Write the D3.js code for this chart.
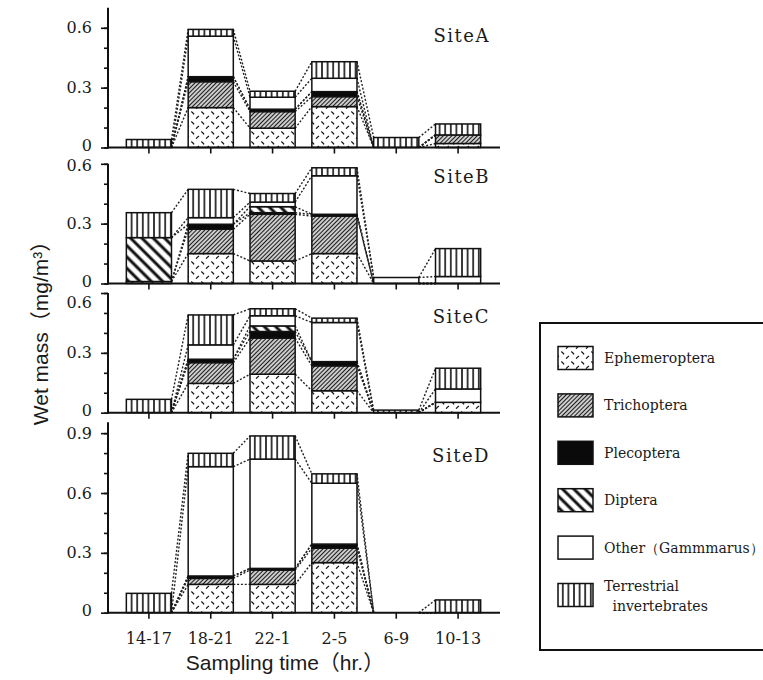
<!DOCTYPE html>
<html>
<head>
<meta charset="utf-8">
<script src="https://cdn.jsdelivr.net/npm/d3@7"></script>
<style>
  html, body { margin: 0; background: #fff; }
  svg { display: block; }
</style>
</head>
<body>
<svg id="chart" width="763" height="680"></svg>
<script>
// Sampling periods (hours) along the x axis
const timeBins = ["14-17", "18-21", "22-1", "2-5", "6-9", "10-13"];

// Taxa, stacked from the bottom of each bar upward
const taxa = ["Ephemeroptera", "Trichoptera", "Plecoptera", "Diptera", "Other（Gammmarus）", "Terrestrial invertebrates"];

const siteNames = ["SiteA", "SiteB", "SiteC", "SiteD"];

// Wet mass (mg/m³); one row per taxon, one column per sampling period
const siteA = [
  [0,     0.200, 0.097, 0.205, 0,     0.020],
  [0,     0.130, 0.083, 0.050, 0,     0.043],
  [0,     0.025, 0.012, 0.025, 0,     0],
  [0,     0,     0,     0,     0,     0],
  [0,     0.203, 0.060, 0.067, 0,     0],
  [0.040, 0.034, 0.030, 0.083, 0.050, 0.055]
];
const siteB = [
  [0.010, 0.150, 0.113, 0.150, 0,     0],
  [0,     0.122, 0.234, 0.188, 0,     0],
  [0,     0.025, 0.008, 0.009, 0,     0],
  [0.220, 0,     0.030, 0,     0,     0],
  [0,     0.033, 0.023, 0.193, 0.030, 0.035],
  [0.125, 0.142, 0.043, 0.040, 0,     0.140]
];
const siteC = [
  [0,     0.147, 0.193, 0.110, 0,     0.052],
  [0,     0.104, 0.181, 0.125, 0,     0],
  [0,     0.017, 0.033, 0.021, 0,     0],
  [0,     0,     0.028, 0,     0,     0],
  [0,     0.072, 0.051, 0.196, 0,     0.067],
  [0.067, 0.150, 0.035, 0.022, 0.013, 0.104]
];
const siteD = [
  [0,     0.142, 0.142, 0.251, 0,     0],
  [0,     0.030, 0.072, 0.072, 0,     0],
  [0,     0.012, 0.008, 0.021, 0,     0],
  [0,     0,     0,     0,     0,     0],
  [0,     0.548, 0.548, 0.305, 0,     0],
  [0.097, 0.067, 0.116, 0.047, 0,     0.064]
];
const siteData = [siteA, siteB, siteC, siteD];

// Labelled y ticks per panel
const yTicksABC = [0, 0.3, 0.6];
const yTicksD = [0, 0.3, 0.6, 0.9];

// ---- layout ----
const svg = d3.select("#chart");
const pxPerUnit = 199.5;
const axisX0 = 108, axisX1 = 500;
// topShift nudges the highest tick label down where panels sit close together
const panels = [
  { zero: 147.5, top: 0.70, ticks: yTicksABC, label: 42, topShift: 0 },
  { zero: 283.5, top: 0.60, ticks: yTicksABC, label: 183, topShift: 2 },
  { zero: 412.7, top: 0.60, ticks: yTicksABC, label: 323, topShift: 9 },
  { zero: 612.7, top: 0.955, ticks: yTicksD, label: 462, topShift: 0 }
];

const x = d3.scaleBand()
  .domain(timeBins)
  .range([118, 489])
  .paddingInner(0.27)
  .paddingOuter(0.135);
const bw = x.bandwidth();

// ---- fill patterns ----
const defs = svg.append("defs");
function pattern(id, w, h, transform) {
  const p = defs.append("pattern")
    .attr("id", id)
    .attr("patternUnits", "userSpaceOnUse")
    .attr("width", w).attr("height", h);
  if (transform) p.attr("patternTransform", transform);
  p.append("rect").attr("width", w).attr("height", h).attr("fill", "#fff");
  return p;
}
// Ephemeroptera: scattered short strokes
const pe = pattern("pEph", 10, 10);
pe.append("path").attr("d", "M1.2,1.6 q1.2,0.2 2.8,2.8 M6.2,8.8 q0.6,-1.6 2.8,-2.8")
  .attr("stroke", "#111").attr("stroke-width", 1.3).attr("fill", "none");
// Trichoptera: dense fine diagonal hatch
const pt = pattern("pTri", 3, 3, "rotate(45)");
pt.append("line").attr("x1", 1.5).attr("x2", 1.5).attr("y1", 0).attr("y2", 3)
  .attr("stroke", "#1a1a1a").attr("stroke-width", 1.45);
// Diptera: broad back-diagonal stripes
const pd = pattern("pDip", 8, 8, "rotate(-45)");
pd.append("line").attr("x1", 4).attr("x2", 4).attr("y1", 0).attr("y2", 8)
  .attr("stroke", "#111").attr("stroke-width", 3);
// Terrestrial invertebrates: vertical lines
const pv = pattern("pTer", 5.6, 5.6);
pv.append("line").attr("x1", 2.8).attr("x2", 2.8).attr("y1", 0).attr("y2", 5.6)
  .attr("stroke", "#111").attr("stroke-width", 1.6);

const fills = ["url(#pEph)", "url(#pTri)", "#0a0a0a", "url(#pDip)", "#fff", "url(#pTer)"];

const serif = "'DejaVu Serif', 'Liberation Serif', serif";
const sans = "'Liberation Sans', Arial, 'Noto Sans CJK SC', sans-serif";

// ---- panels ----
panels.forEach((pan, pi) => {
  const data = siteData[pi];
  const y = d3.scaleLinear().domain([0, pan.top]).range([pan.zero, pan.zero - pan.top * pxPerUnit]);
  const g = svg.append("g");

  // cumulative stack per period
  const stacks = timeBins.map((t, j) => {
    let acc = 0;
    return taxa.map((tx, k) => {
      const y0 = acc;
      acc += data[k][j];
      return { k, j, y0, y1: acc };
    });
  });

  // dotted connectors between matching layer boundaries of neighbouring bars
  const conn = g.append("g");
  for (let j = 0; j < timeBins.length - 1; j++) {
    taxa.forEach((tx, k) => {
      conn.append("line")
        .attr("x1", x(timeBins[j]) + bw).attr("y1", y(stacks[j][k].y1))
        .attr("x2", x(timeBins[j + 1])).attr("y2", y(stacks[j + 1][k].y1))
        .attr("stroke", "#222").attr("stroke-width", 1.4)
        .attr("stroke-dasharray", "2,1.8");
    });
  }

  // stacked bars
  stacks.forEach((segs, j) => {
    g.selectAll(null)
      .data(segs.filter(s => s.y1 > s.y0))
      .enter().append("rect")
      .attr("x", x(timeBins[j]))
      .attr("width", bw)
      .attr("y", s => y(s.y1))
      .attr("height", s => y(s.y0) - y(s.y1))
      .attr("fill", s => fills[s.k])
      .attr("stroke", "#111")
      .attr("stroke-width", 1.5);
  });

  // y axis: minor ticks, then labelled major ticks
  const maxTick = d3.max(pan.ticks);
  const minor = d3.axisLeft(y).tickValues(d3.range(0, maxTick + 1e-6, 0.1)).tickSize(4).tickFormat("");
  const major = d3.axisLeft(y).tickValues(pan.ticks).tickSize(7).tickPadding(9)
    .tickFormat(d => d === 0 ? "0" : d3.format(".1f")(d));
  [minor, major].forEach(ax => {
    const a = g.append("g").attr("transform", `translate(${axisX0},0)`).call(ax);
    a.select(".domain").remove();
    a.selectAll("line").attr("stroke", "#111").attr("stroke-width", 1.6);
    a.selectAll("text")
      .attr("font-family", serif).attr("font-size", 16).attr("fill", "#1a1a1a")
      .attr("y", d => d === 0 ? -2 : (d === maxTick ? pan.topShift : 0));
  });
  g.append("line")
    .attr("x1", axisX0).attr("x2", axisX0)
    .attr("y1", y(pan.top)).attr("y2", y(0) + 1)
    .attr("stroke", "#111").attr("stroke-width", 2);

  // x axis
  const xa = d3.axisBottom(x).tickSize(6).tickPadding(14);
  if (pi < panels.length - 1) xa.tickFormat("");
  const xg = g.append("g").attr("transform", `translate(0,${pan.zero})`).call(xa);
  xg.select(".domain").remove();
  xg.selectAll("line").attr("stroke", "#111").attr("stroke-width", 1.6);
  xg.selectAll("text").attr("font-family", serif).attr("font-size", 16).attr("fill", "#1a1a1a");
  g.append("line")
    .attr("x1", axisX0 - 1).attr("x2", axisX1)
    .attr("y1", pan.zero).attr("y2", pan.zero)
    .attr("stroke", "#111").attr("stroke-width", 2);

  // site name
  g.append("text")
    .attr("x", 490).attr("y", pan.label)
    .attr("text-anchor", "end")
    .attr("font-family", serif).attr("font-size", 18)
    .attr("letter-spacing", 1.5)
    .attr("fill", "#1a1a1a")
    .text(siteNames[pi]);
});

// ---- axis titles ----
svg.append("text")
  .attr("x", 285).attr("y", 670)
  .attr("text-anchor", "middle")
  .attr("font-family", sans).attr("font-size", 21).attr("fill", "#1a1a1a")
  .text("Sampling time（hr.）");

svg.append("text")
  .attr("transform", "translate(48,328) rotate(-90)")
  .attr("text-anchor", "middle")
  .attr("font-family", sans).attr("font-size", 21).attr("fill", "#1a1a1a")
  .text("Wet mass（mg/m³）");

// ---- legend ----
const legend = svg.append("g");
legend.append("rect")
  .attr("x", 540).attr("y", 323).attr("width", 260).attr("height", 327)
  .attr("fill", "#fff").attr("stroke", "#111").attr("stroke-width", 2);
const legendY = d3.scalePoint().domain(taxa).range([358, 595]);
taxa.forEach((tx, k) => {
  const cy = legendY(tx);
  legend.append("rect")
    .attr("x", 558).attr("y", cy - 11.5).attr("width", 35).attr("height", 23)
    .attr("fill", fills[k]).attr("stroke", "#111").attr("stroke-width", 1.5);
  const words = tx === "Terrestrial invertebrates" ? ["Terrestrial", " invertebrates"] : [tx];
  words.forEach((w, i) => {
    legend.append("text")
      .attr("x", 604 + (i ? 4 : 0))
      .attr("y", cy + (words.length > 1 ? (i ? 11 : -9) : 0))
      .attr("dy", "0.35em")
      .attr("font-family", serif).attr("font-size", 14).attr("fill", "#1a1a1a")
      .style("white-space", "pre")
      .text(w);
  });
});
</script>
</body>
</html>
